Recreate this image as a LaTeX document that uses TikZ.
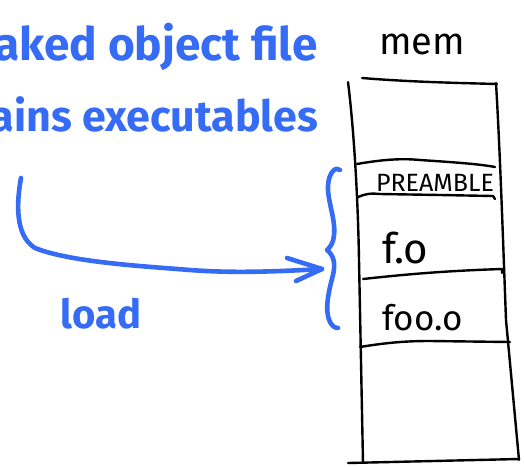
\documentclass[tikz,border=0pt]{standalone}
\usepackage{fontspec}
\setmainfont{Fira Sans}
\usetikzlibrary{arrows.meta}
\definecolor{ink}{RGB}{54,108,245}
\tikzset{
  pen/.style={draw=black, line width=2.4pt, line cap=round, line join=round},
  marker/.style={draw=ink, line width=4.6pt, line cap=round, line join=round},
  note/.style={text=ink, inner sep=0pt, font=\bfseries},
  label/.style={text=black, inner sep=0pt},
}
\begin{document}
\begin{tikzpicture}[x=1pt,y=-1pt]
\path[use as bounding box] (0,0) rectangle (524,466);
\clip (0,0) rectangle (524,466);

% blue heading, cut by the left edge
\node[note, anchor=base east] (head1) at (318,60) {\fontsize{46}{46}\selectfont aked object file};
\node[note, anchor=base east] (head2) at (318,131) {\fontsize{43}{43}\selectfont ains executables};

% memory column
\node[label, anchor=base] (mem) at (422,54) {\fontsize{38}{38}\selectfont mem};
\draw[pen] (348,82) .. controls (354,130) and (358,200) .. (359,260) -- (363,463);
\draw[pen] (496,83) .. controls (500,150) and (503,240) .. (506,320) -- (519,460);
\draw[pen] (362,78) .. controls (410,82) and (460,83) .. (497,84);
\draw[pen] (357,164) .. controls (380,160) and (400,158) .. (420,160) .. controls (450,162) and (480,164) .. (495,167);
\draw[pen] (358,197) .. controls (365,194) and (370,193) .. (380,194) -- (440,195) -- (493,196) -- (495,199);
\draw[pen] (363,279) .. controls (400,275) and (440,271) .. (502,269) -- (502,273);
\draw[pen] (360,347) .. controls (390,342) and (410,341) .. (430,341) -- (510,342);
\draw[pen] (348,463) -- (519,459);

\node[label] (preamble) at (435,183) {\fontsize{25}{25}\selectfont PREAMBLE};
\node[label, anchor=base west] (fo) at (382,263) {\fontsize{42}{42}\selectfont f.o};
\node[label, anchor=base west] (fooo) at (382,330) {\fontsize{35}{35}\selectfont foo.o};

% brace grouping the loaded sections
\draw[marker] (340,170) .. controls (336,166) and (329,172) .. (328,185)
  .. controls (327,200) and (336,220) .. (334,235)
  .. controls (333,245) and (329,248) .. (327,250)
  .. controls (333,255) and (336,262) .. (333,275)
  .. controls (329,290) and (324,310) .. (330,322)
  .. controls (332,326) and (335,328) .. (338,328);

% load arrow
\coordinate (start) at (21,178);
\coordinate (bend) at (35,248);
\coordinate (tip) at (322,269);
\draw[marker] (start) .. controls (17,200) and (14,235) .. (bend)
  .. controls (70,262) and (140,266) .. (190,270)
  .. controls (230,273) and (270,272) .. (tip);
\draw[marker] (287,258) -- (tip) -- (296,281);
\node[note, anchor=base] (load) at (101,328) {\fontsize{40}{40}\selectfont load};
\end{tikzpicture}
\end{document}
